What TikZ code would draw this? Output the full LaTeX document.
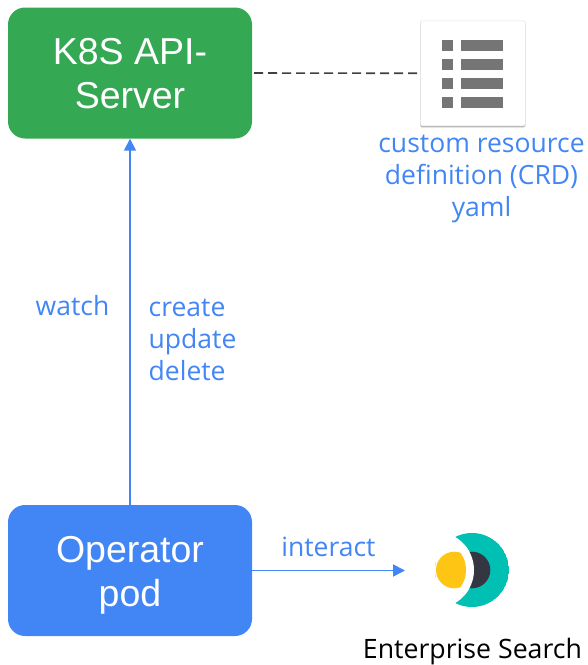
\documentclass[tikz,border=0pt]{standalone}
\usepackage{fontspec}
\setmainfont{Open Sans}
\newfontfamily\boxfont{Liberation Sans}
\usetikzlibrary{arrows.meta,shadows}
\definecolor{gblue}{HTML}{4285F4}
\definecolor{ggreen}{HTML}{34A853}
\definecolor{teal}{HTML}{00BFB3}
\definecolor{ink}{HTML}{343741}
\definecolor{sun}{HTML}{FEC514}
\definecolor{docgrey}{HTML}{757575}
\newcommand{\lowered}[2]{\raisebox{-#1}[\height][\depth]{#2}}
\tikzset{
 box/.style={rounded corners=17pt,minimum width=244pt,minimum height=131pt,inner sep=0pt,text=white,align=center,font=\boxfont\fontsize{37.5}{44}\selectfont},
 lbl/.style={text=gblue,align=center,inner sep=0pt,font=\fontsize{26.5}{32}\selectfont},
 flow/.style={draw=gblue,line width=1.8pt,-{Triangle[length=12pt,width=12pt]}},
 bar/.style={fill=docgrey,draw=none},
}
\begin{document}
\begin{tikzpicture}[x=1pt,y=-1pt]
\useasboundingbox (0,0) rectangle (588,665);
\node[box,fill=ggreen] (api) at (130,73) {\lowered{0.5pt}{K8S API-}\\\lowered{0.5pt}{Server}};
\node[box,fill=gblue] (op) at (130,570.5) {\lowered{5pt}{Operator}\\\lowered{5pt}{pod}};
\node[draw=black!12,line width=.6pt,fill=white,minimum width=105pt,minimum height=105pt,inner sep=0pt,rounded corners=1.5pt,
  drop shadow={shadow xshift=0pt,shadow yshift=-1.5pt,fill=black,opacity=.3}] (doc) at (472.8,73.3) {};
\foreach \y in {45,64,83,102}{
  \fill[bar] (442.3,\y-5.5) rectangle (453.3,\y+5.5);
  \fill[bar] (461,\y-5.5) rectangle (502.7,\y+5.5);
}
\draw[dashed,dash pattern=on 9pt off 5pt,draw=black!75,line width=1.6pt] (api.east) ++(2,0) -- (doc.west);
\draw[flow] (op.north) -- (api.south);
\coordinate (es) at (405,570.5);
\draw[flow] (op.east) -- (es);
\node[lbl] (crd) at (481.5,179) {custom resource\\definition (CRD)\\yaml};
\node[lbl] (watch) at (72.5,306) {watch};
\node[lbl,align=left,anchor=west] (cud) at (148.5,340) {create\\update\\delete};
\node[lbl] (inter) at (328.5,547) {interact};
% logo
\begin{scope}
 \clip (472,570) circle (37);
 \fill[teal] (472,570) circle (37);
 \fill[white] (436,570) circle (38);
\end{scope}
\begin{scope}
 \clip (436,533) rectangle (495,607);
 \fill[ink] (472,570) circle (18.3);
 \fill[white] (436,570) circle (38);
\end{scope}
\begin{scope}
 \clip (454.3,570) circle (18.3);
 \fill[sun] (436,570) circle (30);
\end{scope}
\node[text=black,inner sep=0pt,font=\fontsize{26.7}{30}\selectfont] (name) at (472.5,652) {Enterprise Search};
\end{tikzpicture}
\end{document}
